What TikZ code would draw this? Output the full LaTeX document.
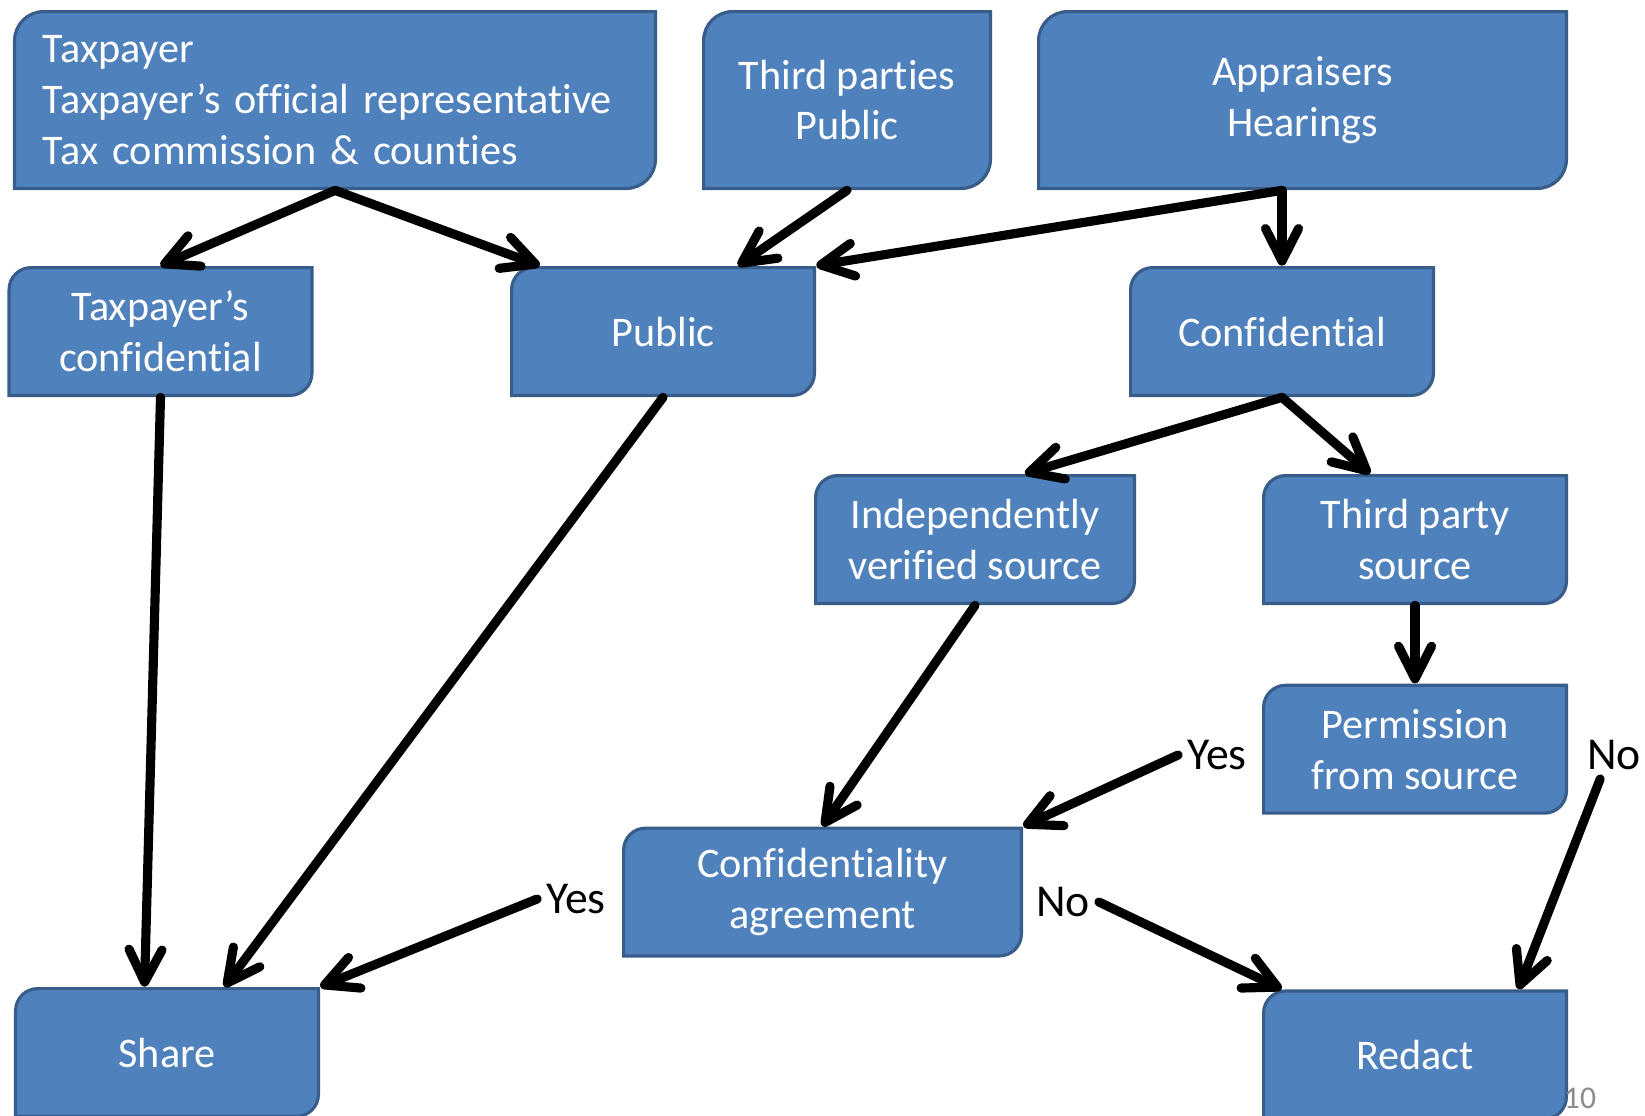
\documentclass[tikz,border=0pt]{standalone}
\usepackage{fontspec}
\setmainfont{Carlito}[Ligatures={TeX,CommonOff}]
\usepackage{xcolor}
\usepackage{tikz}
\usetikzlibrary{positioning,calc,arrows.meta}
\definecolor{boxfill}{HTML}{4F81BD}
\definecolor{boxline}{HTML}{385D8A}
\definecolor{pagegray}{HTML}{8C8C8C}
\tikzset{box radius/.store in=\boxrad, box radius=4.4mm}
\tikzset{pbox/.style={rectangle, inner sep=0pt, minimum width=6.12cm, minimum height=2.62cm,
    text=white, align=center, font=\fontsize{24}{29}\selectfont,
    path picture={
      \draw[draw=boxline, fill=boxfill, line width=1.8pt]
        ([shift={(0.9pt,0.9pt)}]path picture bounding box.south west)
        -- ([shift={(0.9pt,-0.9pt-\boxrad)}]path picture bounding box.north west)
        arc[start angle=180, end angle=90, radius=\boxrad]
        -- ([shift={(-0.9pt,-0.9pt)}]path picture bounding box.north east)
        -- ([shift={(-0.9pt,0.9pt+\boxrad)}]path picture bounding box.south east)
        arc[start angle=0, end angle=-90, radius=\boxrad]
        -- cycle;}}}
\tikzset{tallbox/.style={pbox, box radius=5.8mm, minimum height=3.6cm}}
\tikzset{arr/.style={draw, -{Straight Barb[length=6.5mm, width=6.6mm, round]}, line width=5.2pt, line cap=round}}
\tikzset{lbl/.style={inner sep=5pt, text=black, font=\fontsize{26}{31}\selectfont}}

\begin{document}
\begin{tikzpicture}[x=0.2mm, y=-0.2mm]
    \useasboundingbox (0,0) rectangle (1645,1115);
    % sources
    \node[tallbox, minimum width=12.88cm, text width=11.68cm, align=left](TP) at (335,100)
        {Taxpayer\\Taxpayer’s official representative\\Tax commission \& counties};
    \node[tallbox, minimum width=5.8cm](TPP) at (847,100) {Third parties\\Public};
    \node[tallbox, minimum width=10.62cm](AH) at (1302.5,100) {Appraisers\\Hearings};
    % classes
    \node[pbox](TC) at (160.5,331.5) {Taxpayer’s\\confidential};
    \node[pbox](PU) at (663,331.5) {Public};
    \node[pbox](CO) at (1282,331.5) {Confidential};
    \node[pbox, minimum width=6.44cm](IV) at (975,539.5) {Independently\\verified source};
    \node[pbox](TS) at (1415,539.5) {Third party\\source};
    \node[pbox, below=1.56cm of TS](PS) {Permission\\from source};
    \node[pbox, minimum width=8.02cm](CA) at (822.5,892) {Confidentiality\\agreement};
    % outcomes
    \node[pbox](SH) at (167,1052.5) {Share};
    \node[pbox, below=3.48cm of PS](RE) {Redact};
    % answers
    \node[lbl](Y1) at (1217,755) {Yes};
    \node[lbl](N2) at (1614,755) {No};
    \node[lbl](Y2) at (576,899) {Yes};
    \node[lbl](N1) at (1063,902) {No};
    \node[text=pagegray, font=\fontsize{18}{22}\selectfont](PG) at (1580,1098) {10};

    \coordinate (F) at (AH.south -| CO.north);
    \draw[arr] (TP.south) -- (TC.north);
    \draw[arr] (TP.south) -- ([xshift=6mm]PU.north west);
    \draw[arr] (TPP.south) -- ([xshift=15mm]PU.north);
    \draw[arr] (F) -- (PU.north east);
    \draw[arr] (F) -- (CO.north);
    \draw[arr] (CO.south) -- ([xshift=10mm]IV.north);
    \draw[arr] (CO.south) -- ([xshift=-9mm]TS.north);
    \draw[arr] (TS.south) -- (PS.north);
    \draw[arr] (IV.south) -- (CA.north);
    \draw[arr] (Y1.west) -- (CA.north east);
    \draw[arr] (TC.south) -- ([xshift=-4.5mm]SH.north);
    \draw[arr] (PU.south) -- ([xshift=11.5mm]SH.north);
    \draw[arr] (Y2.west) -- (SH.north east);
    \draw[arr] (N1.east) -- ([xshift=4mm]RE.north west);
    \draw[arr] (N2.240) -- ([xshift=-10mm]RE.north east);
\end{tikzpicture}
\end{document}
